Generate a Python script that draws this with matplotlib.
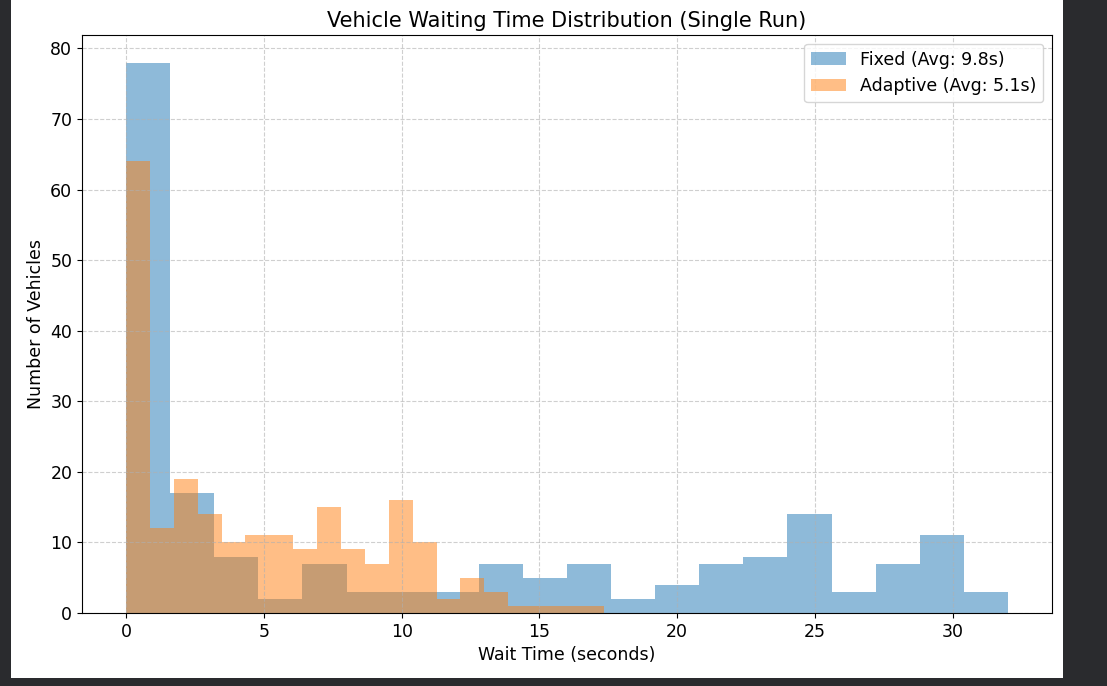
import numpy as np
import matplotlib
matplotlib.use("Agg")
import matplotlib.pyplot as plt
from matplotlib.patches import Rectangle

# histogram counts (20 bins each)
fixed_counts = [78, 17, 8, 2, 7, 3, 3, 3, 7, 5, 7, 2, 4, 7, 8, 14, 3, 7, 11, 3]
fixed_range = (0.0, 32.0)
adaptive_counts = [64, 12, 19, 14, 10, 11, 11, 9, 15, 9, 7, 16, 10, 2, 5, 3, 1, 1, 1, 1]
adaptive_range = (0.0, 17.33)

fixed_label = "Fixed (Avg: 9.8s)"
adaptive_label = "Adaptive (Avg: 5.1s)"


def hist_from_counts(ax, counts, rng, label):
  edges = np.linspace(rng[0], rng[1], len(counts) + 1)
  centers = (edges[:-1] + edges[1:]) / 2
  ax.hist(centers, bins=edges, weights=counts, alpha=0.5, label=label)


fig = plt.figure(figsize=(11.07, 6.86), dpi=100, facecolor="#2a2b2e")
# white canvas inside the dark screenshot frame
fig.patches.append(Rectangle((11 / 1107, 8 / 686), (1063 - 11) / 1107, 678 / 686,
                             transform=fig.transFigure, facecolor="white",
                             edgecolor="none", zorder=-10))

ax = fig.add_axes([82 / 1107, (686 - 613) / 686, (1052 - 82) / 1107, (613 - 35) / 686])
hist_from_counts(ax, fixed_counts, fixed_range, fixed_label)
hist_from_counts(ax, adaptive_counts, adaptive_range, adaptive_label)

ax.set_title("Vehicle Waiting Time Distribution (Single Run)", fontsize=15)
ax.set_xlabel("Wait Time (seconds)", fontsize=12.5)
ax.set_ylabel("Number of Vehicles", fontsize=12.5)
ax.tick_params(labelsize=12.5)
ax.grid(True, linestyle="--", alpha=0.6)
ax.legend(loc="upper right", fontsize=12.5)

fig.savefig("out.png", dpi=100, facecolor=fig.get_facecolor())
